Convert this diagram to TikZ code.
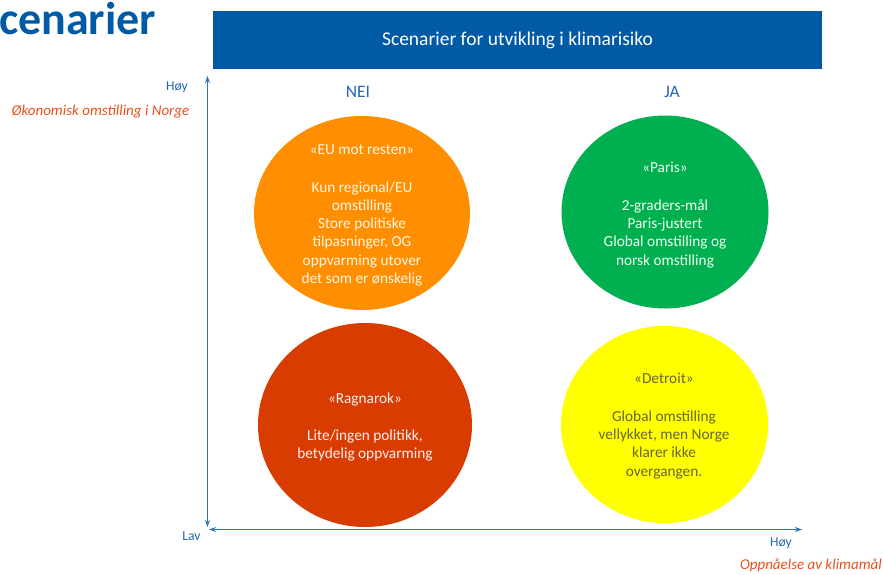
\documentclass[tikz,border=0pt]{standalone}
\usepackage{fontspec}
\setmainfont{Carlito}
\usetikzlibrary{shapes.geometric,arrows.meta}
\definecolor{boxblue}{HTML}{005AA6}
\definecolor{axblue}{HTML}{2E75B6}
\definecolor{lblblue}{HTML}{2566B0}
\definecolor{lblred}{HTML}{E8501E}
\definecolor{corange}{HTML}{FF8F00}
\definecolor{cgreen}{HTML}{00B050}
\definecolor{cred}{HTML}{D83C00}
\definecolor{cyellow}{HTML}{FFFF00}
\definecolor{softwhite}{HTML}{FFF6E8}
\definecolor{olivegray}{HTML}{66662E}
\tikzset{
  ball/.style={ellipse, draw=none, inner sep=0pt},
  balltxt/.style={align=center, font=\fontsize{15.3}{18.3}\selectfont, inner sep=0pt},
  axis/.style={draw=axblue, line width=1.2pt, {Stealth[length=7pt,width=5pt]}-{Stealth[length=7pt,width=5pt]}},
  blue lbl/.style={text=lblblue, font=\fontsize{13.6}{15}\selectfont, inner sep=0pt},
  red lbl/.style={text=lblred, font=\fontsize{15}{17}\selectfont\itshape, inner sep=0pt},
  colhead/.style={text=lblblue, font=\fontsize{17.5}{19}\selectfont, inner sep=0pt},
}
\begin{document}
\begin{tikzpicture}[x=1pt,y=-1pt]
\useasboundingbox (0,0) rectangle (883,574);

% title
\node[anchor=base west, inner sep=0pt, text=boxblue, font=\fontsize{46}{48}\selectfont\bfseries] (title) at (-1,34) {cenarier};

% header box
\node[fill=boxblue, minimum width=609pt, minimum height=58pt, inner sep=0pt,
      text=white, font=\fontsize{19.5}{21}\selectfont] (head) at (517.5,40) {Scenarier for utvikling i klimarisiko};

% column headings
\node[colhead] (nei) at (358,92) {NEI};
\node[colhead] (ja) at (672,92) {JA};

% circles
\node[ball, fill=corange, minimum width=216pt, minimum height=194pt] (eu) at (362,213) {};
\node[ball, fill=cgreen, minimum width=207pt, minimum height=193pt] (paris) at (665,212) {};
\node[ball, fill=cred, minimum width=214pt, minimum height=204pt] (rag) at (365,425) {};
\node[ball, fill=cyellow, minimum width=207pt, minimum height=197pt] (det) at (664.5,424.5) {};

\node[balltxt, text=softwhite] (eut) at (362,215.5)
  {«EU mot resten»\\[19pt] Kun regional/EU\\ omstilling\\ Store politiske\\ tilpasninger, OG\\ oppvarming utover\\ det som er ønskelig};
\node[balltxt, text=white!94!green] (parist) at (665,215)
  {«Paris»\\[19pt] 2-graders-mål\\ Paris-justert\\ Global omstilling og\\ norsk omstilling};
\node[balltxt, text=white!94!red] (ragt) at (365,427)
  {«Ragnarok»\\[19pt] Lite/ingen politikk,\\ betydelig oppvarming};
\node[balltxt, text=olivegray] (dett) at (664,426)
  {«Detroit»\\[19pt] Global omstilling\\ vellykket, men Norge\\ klarer ikke\\ overgangen.};

% axes
\coordinate (vtop) at (207.5,76);
\coordinate (vbot) at (207.5,527);
\coordinate (hl) at (209,529.5);
\coordinate (hr) at (802,529.5);
\draw[axis] (vbot) -- (vtop);
\draw[axis] (hl) -- (hr);

% axis labels
\node[blue lbl] (hoyv) at (177,87) {Høy};
\node[red lbl] (okon) at (100.5,112) {Økonomisk omstilling i Norge};
\node[blue lbl] (lav) at (191.5,536) {Lav};
\node[blue lbl] (hoyh) at (781,543) {Høy};
\node[red lbl, anchor=east] (opp) at (882,565) {Oppnåelse av klimamål};
\end{tikzpicture}
\end{document}
